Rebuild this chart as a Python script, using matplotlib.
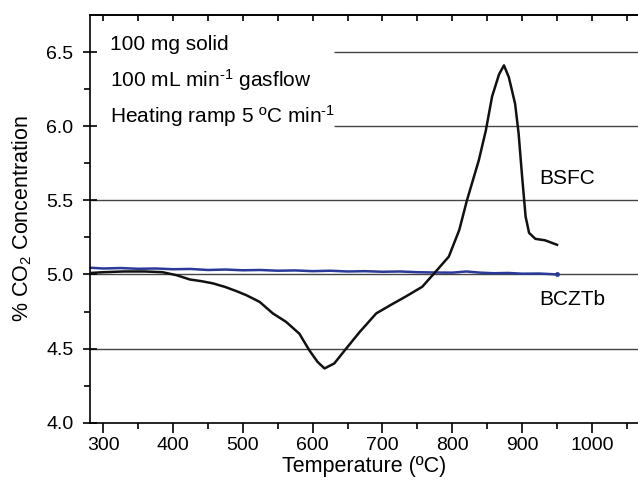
import numpy as np
import matplotlib.pyplot as plt

plt.rcParams['font.family'] = ['Liberation Sans', 'DejaVu Sans']
plt.rcParams['mathtext.default'] = 'regular'

# BSFC trace (temperature degC, % CO2)
bsfc_t = [282, 300, 330, 360, 385, 405, 424, 440, 457, 475, 491, 505, 524, 543,
          562, 581, 595, 607, 617, 631, 648, 667, 691, 714, 733, 757, 774, 795,
          810, 821, 838, 848, 857, 867, 874, 881, 890, 895, 900, 905, 910, 919,
          933, 950]
bsfc_c = [5.01, 5.015, 5.02, 5.02, 5.015, 4.995, 4.966, 4.955, 4.94, 4.915,
          4.887, 4.86, 4.815, 4.737, 4.68, 4.60, 4.49, 4.41, 4.366, 4.40, 4.50,
          4.61, 4.737, 4.80, 4.85, 4.917, 5.007, 5.12, 5.30, 5.50, 5.77, 5.97,
          6.20, 6.35, 6.41, 6.33, 6.15, 5.95, 5.66, 5.39, 5.28, 5.24, 5.23, 5.20]

# BCZTb trace
bczt_t = [282, 300, 325, 350, 375, 400, 425, 450, 475, 500, 525, 550, 575, 600,
          625, 650, 675, 700, 725, 750, 775, 800, 820, 840, 860, 880, 900, 925, 950]
bczt_c = [5.045, 5.04, 5.043, 5.038, 5.04, 5.035, 5.037, 5.03, 5.033, 5.028,
          5.03, 5.025, 5.027, 5.022, 5.025, 5.02, 5.022, 5.018, 5.02, 5.015,
          5.013, 5.012, 5.02, 5.012, 5.008, 5.01, 5.005, 5.006, 5.0]

grid_y = [4.5, 5.0, 5.5, 6.0, 6.5]
grid_start = [281, 281, 281, 631, 631]

fig = plt.figure(figsize=(6.38, 4.82), dpi=100)
ax = fig.add_axes([0.141, 0.123, 0.859, 0.846])

ax.hlines(grid_y, grid_start, 1066, colors='#444444', linewidth=1.0, zorder=1)
ax.plot(bczt_t, bczt_c, color='#2b3a98', linewidth=1.8, zorder=2)
ax.plot(bczt_t[-1], bczt_c[-1], marker='o', markersize=2.5, color='#2b3a98')
ax.plot(bsfc_t, bsfc_c, color='#111111', linewidth=1.8, zorder=3)

ax.text(309, 6.55, '100 mg solid', fontsize=15, va='center')
ax.text(309, 6.31, '100 mL min$^{\u2010 1}$ gasflow', fontsize=15, va='center')
ax.text(309, 6.07, 'Heating ramp 5 ºC min$^{\u2010 1}$', fontsize=15, va='center')
ax.text(924, 5.65, 'BSFC', fontsize=15, va='center')
ax.text(924, 4.83, 'BCZTb', fontsize=15, va='center')

ax.set_xlim(281, 1066)
ax.set_ylim(4.0, 6.75)
ax.set_xticks([300, 400, 500, 600, 700, 800, 900, 1000])
ax.set_xticks(np.arange(350, 1066, 100), minor=True)
ax.set_yticks([4.0, 4.5, 5.0, 5.5, 6.0, 6.5])
ax.set_yticks([4.25, 4.75, 5.25, 5.75, 6.25], minor=True)
ax.set_yticklabels(['4.0', '4.5', '5.0', '5.5', '6.0', '6.5'])

ax.spines['right'].set_visible(False)
for s in ['left', 'bottom', 'top']:
    ax.spines[s].set_linewidth(1.2)
ax.tick_params(axis='x', which='major', direction='out', length=7, width=1.2,
               labelsize=14, pad=3)
ax.tick_params(axis='x', which='minor', direction='out', length=4, width=1.2)
ax.tick_params(axis='y', which='major', direction='inout', length=10, width=1.2,
               labelsize=14, pad=7)
ax.tick_params(axis='y', which='minor', direction='out', length=4, width=1.2)

# inward ticks along the top edge
top = ax.secondary_xaxis('top')
top.set_xticks([300, 400, 500, 600, 700, 800, 900, 1000])
top.set_xticks(np.arange(350, 1066, 100), minor=True)
top.tick_params(which='both', direction='in', length=4, width=1.2, labeltop=False)
top.spines['top'].set_linewidth(1.2)

ax.set_xlabel('Temperature (ºC)', fontsize=15.5, labelpad=2)
ax.set_ylabel('% CO$_2$ Concentration', fontsize=15.5, labelpad=9)

fig.savefig('out.png', dpi=100)
